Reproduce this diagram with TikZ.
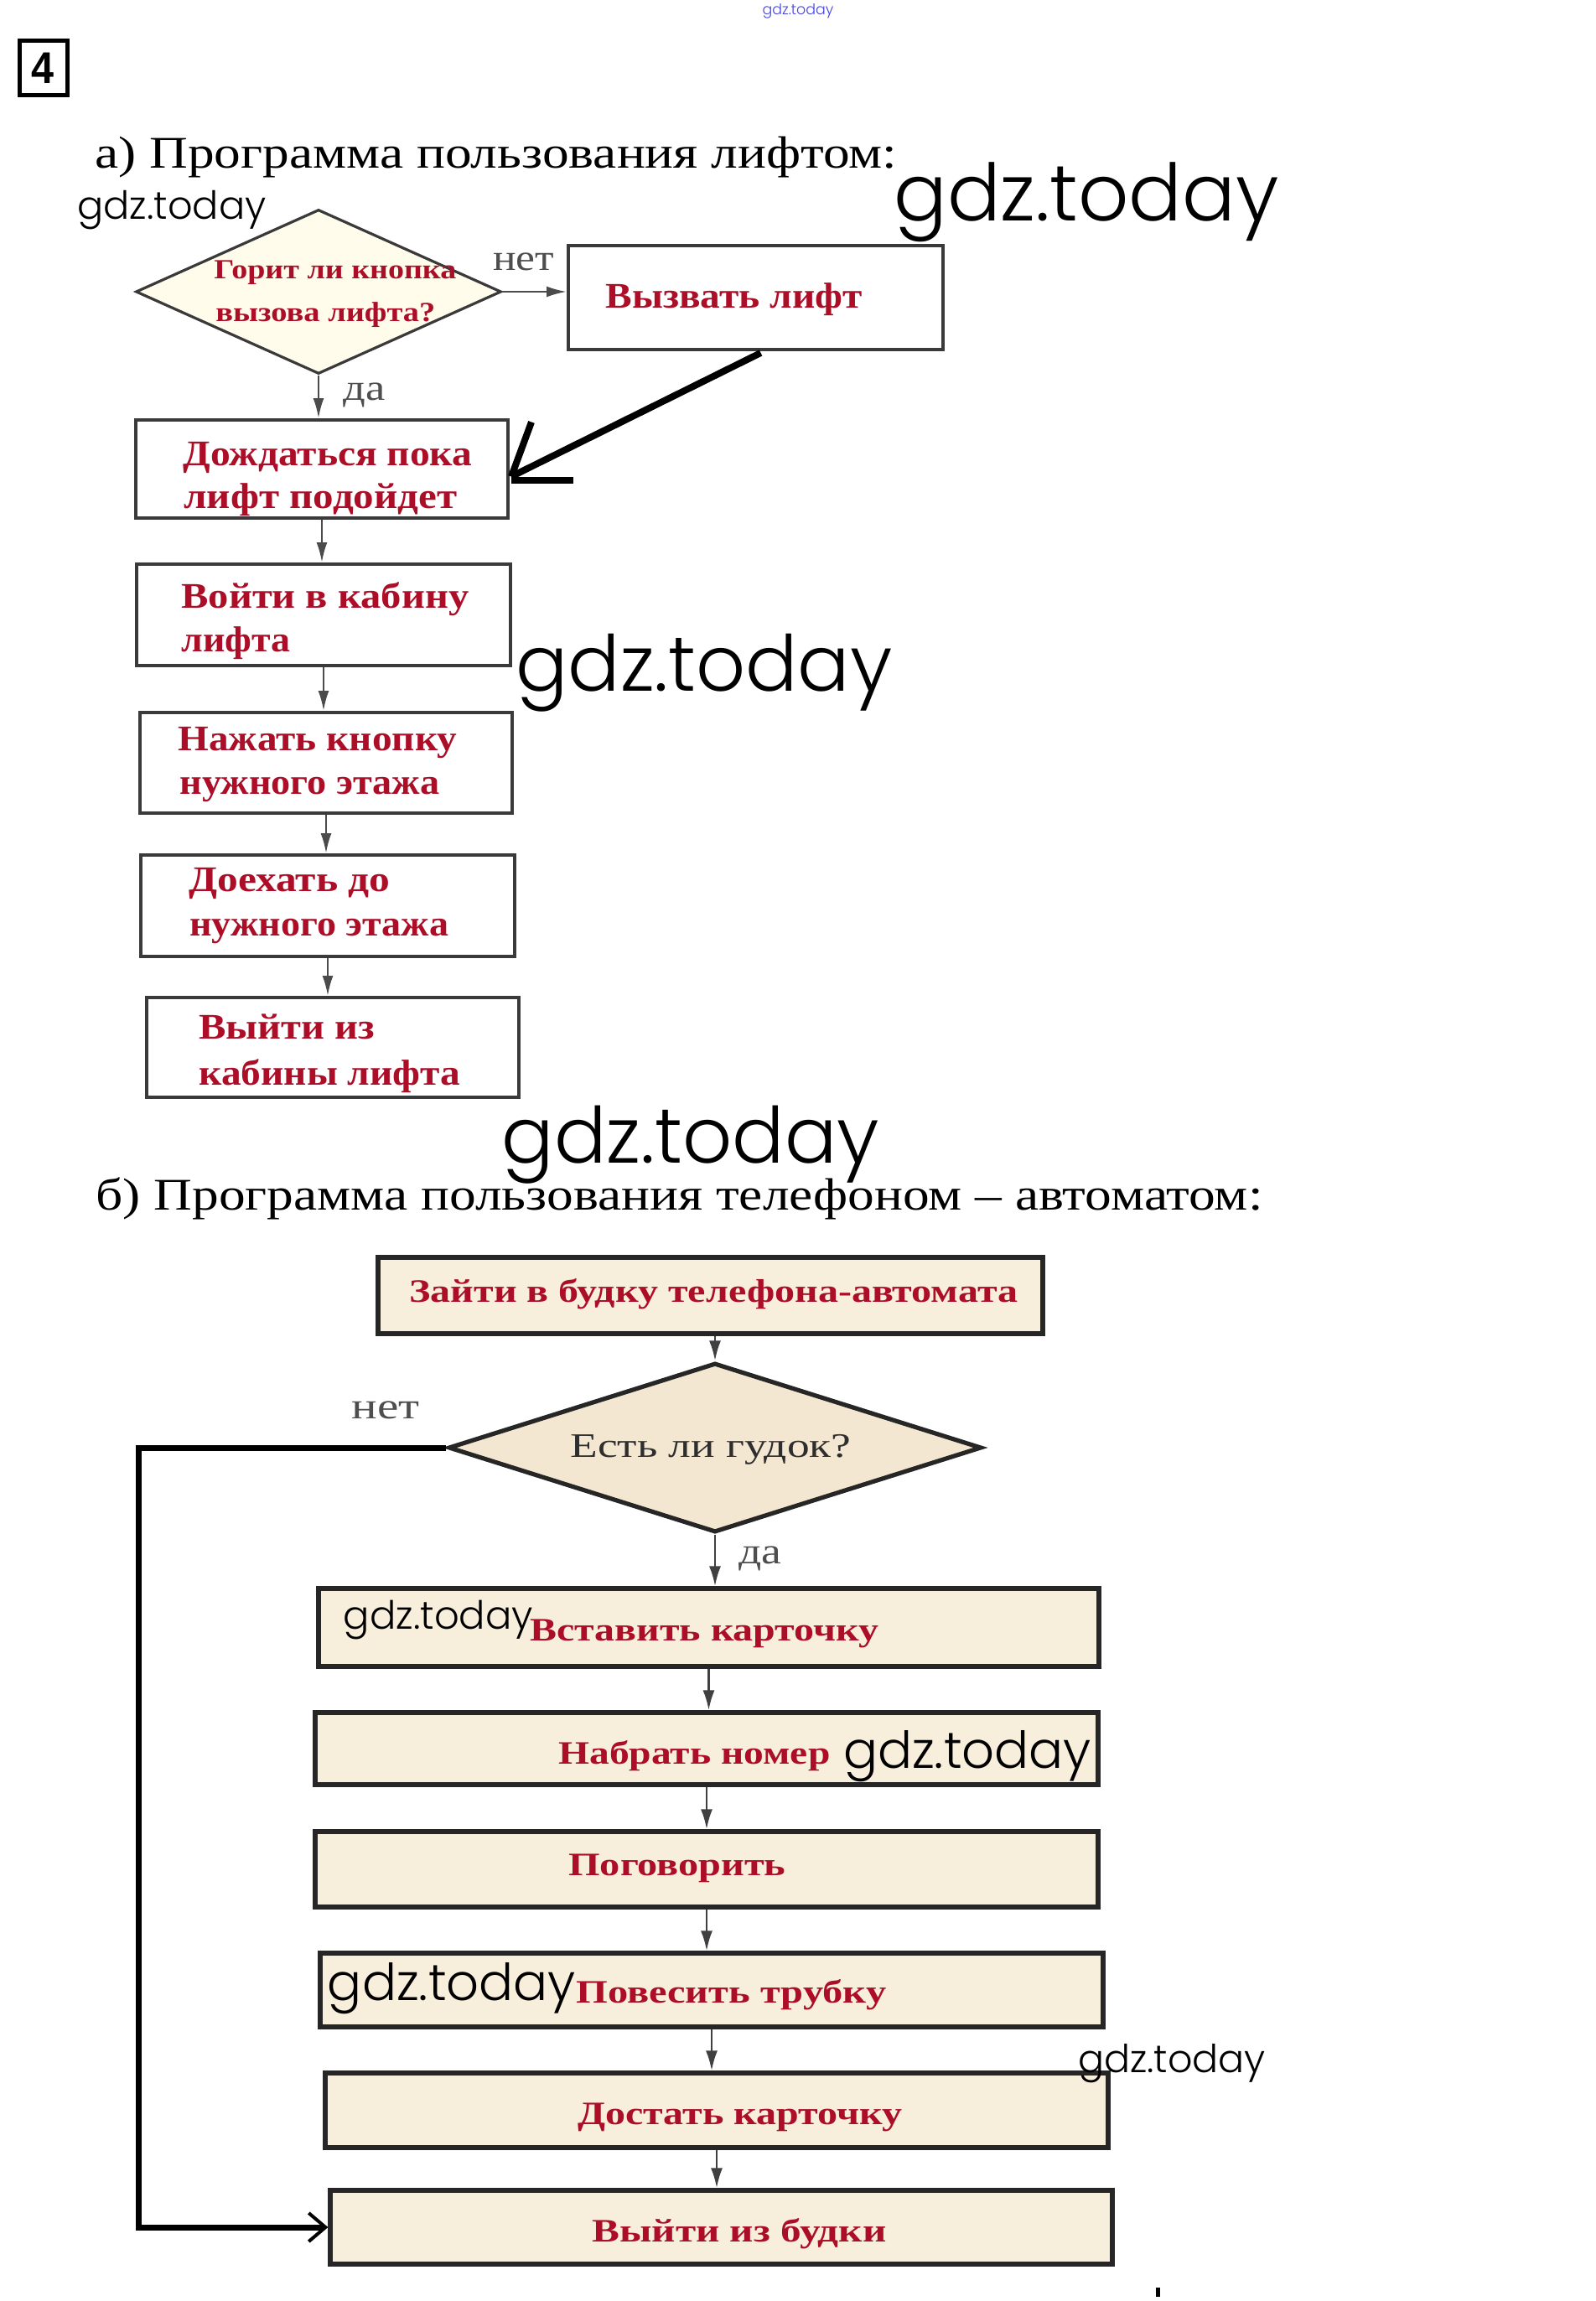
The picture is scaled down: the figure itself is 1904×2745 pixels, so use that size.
\documentclass[tikz,border=0pt]{standalone}
\usepackage{fontspec}
\usepackage{graphicx}
\setmainfont{Liberation Serif}
\newfontfamily\wmfont{Poppins Light}
\newfontfamily\numfont{Liberation Sans}
\usetikzlibrary{shapes.geometric,arrows.meta}
\newdimen\pxu \pxu=0.5pt
\newcommand\fitw[2]{\resizebox{#1\pxu}{\height}{#2}}
\newcommand\wmk[2]{\resizebox{#1\pxu}{!}{\wmfont #2}}
\definecolor{txtred}{RGB}{172,14,40}
\definecolor{boxgray}{RGB}{58,58,58}
\definecolor{arrgray}{RGB}{75,75,75}
\definecolor{lblgray}{RGB}{78,78,78}
\definecolor{diafill}{RGB}{255,252,236}
\definecolor{phfill}{RGB}{248,238,220}
\definecolor{dia2fill}{RGB}{244,231,210}
\definecolor{wmblue}{RGB}{70,70,225}
\begin{document}
\begin{tikzpicture}[x=0.5pt,y=-0.5pt,
  liftbox/.style={draw=boxgray, line width=2pt, fill=white, inner sep=0pt},
  phonebox/.style={draw=black!85, line width=2.6pt, fill=phfill, inner sep=0pt},
  dia1/.style={diamond, draw=boxgray, line width=1.6pt, fill=diafill, inner sep=0pt},
  dia2/.style={diamond, draw=black!85, line width=2.6pt, fill=dia2fill, inner sep=0pt},
  liftarrow/.style={draw=arrgray, line width=1.3pt, -{Latex[length=12pt,width=6.5pt]}},
  phonearrow/.style={draw=black!75, line width=1.4pt, -{Latex[length=12pt,width=7pt]}},
  handline/.style={draw=black, line width=4pt},
  loopline/.style={draw=black, line width=3.5pt, -{Straight Barb[length=10pt,width=17pt,line width=2pt]}},
  lbl/.style={anchor=base west, inner sep=0pt, text=lblgray, font=\fontsize{22pt}{26pt}\selectfont},
  redtxt/.style={anchor=base west, inner sep=0pt, text=txtred, font=\fontsize{21.5pt}{25pt}\selectfont\bfseries},
  redsmall/.style={anchor=base west, inner sep=0pt, text=txtred, font=\fontsize{16.5pt}{20pt}\selectfont\bfseries},
  phtxt/.style={anchor=base west, inner sep=0pt, text=txtred, font=\fontsize{19.5pt}{23pt}\selectfont\bfseries},
  titletxt/.style={anchor=base west, inner sep=0pt, text=black, font=\fontsize{27pt}{30pt}\selectfont},
  wmark/.style={inner sep=0pt, text=black}
]
\useasboundingbox (0,0) rectangle (1904,2745);
\fill[white] (0,0) rectangle (1904,2745);

% number box
\node[draw=black, line width=2.5pt, minimum width=57\pxu, minimum height=65\pxu, inner sep=0pt] (num) at (51.5,81.5)
  {\numfont\bfseries\fontsize{26.5pt}{30pt}\selectfont\fitw{27}{4}};

% titles
\node[titletxt] (ta) at (113,200) {\fitw{957}{а) Программа пользования лифтом:}};
\node[titletxt] (tb) at (114,1443) {\fitw{1392}{б) Программа пользования телефоном – автоматом:}};

% ---------- part a ----------
\node[dia1, minimum width=436\pxu, minimum height=196\pxu] (d1) at (380,348) {};
\node[liftbox, minimum width=447\pxu, minimum height=124\pxu] (v0) at (901.5,355) {};
\node[liftbox, minimum width=444\pxu, minimum height=117\pxu] (b1) at (384,559.5) {};
\node[liftbox, minimum width=446\pxu, minimum height=121\pxu] (b2) at (386,733.5) {};
\node[liftbox, minimum width=444\pxu, minimum height=120\pxu] (b3) at (389,910) {};
\node[liftbox, minimum width=446\pxu, minimum height=121\pxu] (b4) at (391,1080.5) {};
\node[liftbox, minimum width=444\pxu, minimum height=119\pxu] (b5) at (397,1249.5) {};

\node[redsmall] (d1a) at (255,333) {\fitw{289}{Горит ли кнопка}};
\node[redsmall] (d1b) at (257,383) {\fitw{262}{вызова лифта?}};
\node[redtxt] (v0t) at (722,367) {\fitw{306}{Вызвать лифт}};
\node[redtxt] (b1a) at (218,555) {\fitw{345}{Дождаться пока}};
\node[redtxt] (b1b) at (219,606) {\fitw{326}{лифт подойдет}};
\node[redtxt] (b2a) at (216,725) {\fitw{343}{Войти в кабину}};
\node[redtxt] (b2b) at (216,777) {\fitw{130}{лифта}};
\node[redtxt] (b3a) at (212,895) {\fitw{333}{Нажать кнопку}};
\node[redtxt] (b3b) at (214,947) {\fitw{310}{нужного этажа}};
\node[redtxt] (b4a) at (225,1063) {\fitw{240}{Доехать до}};
\node[redtxt] (b4b) at (226,1116) {\fitw{309}{нужного этажа}};
\node[redtxt] (b5a) at (237,1239) {\fitw{210}{Выйти из}};
\node[redtxt] (b5b) at (237,1294) {\fitw{312}{кабины лифта}};

\draw[liftarrow] (d1.east) -- (d1.east -| v0.west);
\node[lbl] (net1) at (588,322) {\fitw{73}{нет}};
\draw[liftarrow] (d1.south) -- (d1.south |- b1.north);
\node[lbl] (da1) at (409,477) {\fitw{50}{да}};
\draw[liftarrow] (b1.south) -- (b1.south |- b2.north);
\draw[liftarrow] (b2.south) -- (b2.south |- b3.north);
\draw[liftarrow] (b3.south) -- (b3.south |- b4.north);
\draw[liftarrow] (b4.south) -- (b4.south |- b5.north);

% hand drawn arrow
\coordinate (hc) at ([xshift=1pt,yshift=-4.5pt]b1.east);
\draw[handline] ([xshift=3pt,yshift=-1pt]v0.south) -- (hc);
\draw[handline] ([xshift=13pt,yshift=28pt]b1.east) -- (hc);
\draw[handline] ([yshift=-2pt]hc) -- ([xshift=37pt,yshift=-2pt]hc);

% ---------- part b ----------
\node[phonebox, minimum width=793\pxu, minimum height=91\pxu] (p0) at (847.5,1545.5) {};
\node[dia2, minimum width=636\pxu, minimum height=202\pxu] (d2) at (853,1727) {};
\node[phonebox, minimum width=931\pxu, minimum height=93\pxu] (p1) at (845.5,1941.5) {};
\node[phonebox, minimum width=934\pxu, minimum height=86\pxu] (p2) at (843,2086) {};
\node[phonebox, minimum width=934\pxu, minimum height=90\pxu] (p3) at (843,2230) {};
\node[phonebox, minimum width=934\pxu, minimum height=88\pxu] (p4) at (849,2374) {};
\node[phonebox, minimum width=934\pxu, minimum height=89\pxu] (p5) at (855,2517.5) {};
\node[phonebox, minimum width=933\pxu, minimum height=88\pxu] (p6) at (860.5,2657) {};

\node[phtxt] (p0t) at (488,1553) {\fitw{726}{Зайти в будку телефона-автомата}};
\node[anchor=base west, inner sep=0pt, text=black!82, font=\fontsize{20.5pt}{24pt}\selectfont] (d2t) at (680,1738) {\fitw{335}{Есть ли гудок?}};
\node[phtxt] (p1t) at (632,1957) {\fitw{416}{Вставить карточку}};
\node[phtxt] (p2t) at (666,2104) {\fitw{324}{Набрать номер}};
\node[phtxt] (p3t) at (678,2237) {\fitw{259}{Поговорить}};
\node[phtxt] (p4t) at (687,2389) {\fitw{370}{Повесить трубку}};
\node[phtxt] (p5t) at (689,2534) {\fitw{387}{Достать карточку}};
\node[phtxt] (p6t) at (706,2674) {\fitw{351}{Выйти из будки}};

\draw[phonearrow] (d2.north |- p0.south) -- (d2.north);
\draw[phonearrow] (d2.south) -- (d2.south |- p1.north);
\node[lbl] (net2) at (419,1692) {\fitw{81}{нет}};
\node[lbl] (da2) at (881,1865) {\fitw{51}{да}};
\draw[phonearrow] (p1.south) -- (p1.south |- p2.north);
\draw[phonearrow] (p2.south) -- (p2.south |- p3.north);
\draw[phonearrow] (p3.south) -- (p3.south |- p4.north);
\draw[phonearrow] (p4.south) -- (p4.south |- p5.north);
\draw[phonearrow] (p5.south) -- (p5.south |- p6.north);

\coordinate (lcorner) at (165,2000);
\draw[loopline] (d2.west) -- (d2.west -| lcorner) -- (lcorner |- p6.west) -- (p6.west);

\fill[black] (1379,2729) rectangle (1384,2740);

% ---------- watermarks ----------
\node[wmark, text=wmblue] (w1) at (952,13) {\wmk{85}{gdz.today}};
\node[wmark] (w2) at (205,251) {\wmk{225}{gdz.today}};
\node[wmark] (w3) at (1296,241) {\wmk{459}{gdz.today}};
\node[wmark] (w4) at (840,803) {\wmk{449}{gdz.today}};
\node[wmark] (w5) at (824,1366) {\wmk{450}{gdz.today}};
\node[wmark] (w6) at (523,1933) {\wmk{226}{gdz.today}};
\node[wmark] (w7) at (1154,2095) {\wmk{296}{gdz.today}};
\node[wmark] (w8) at (539,2372) {\wmk{296}{gdz.today}};
\node[wmark] (w9) at (1398,2462) {\wmk{224}{gdz.today}};
\end{tikzpicture}
\end{document}
